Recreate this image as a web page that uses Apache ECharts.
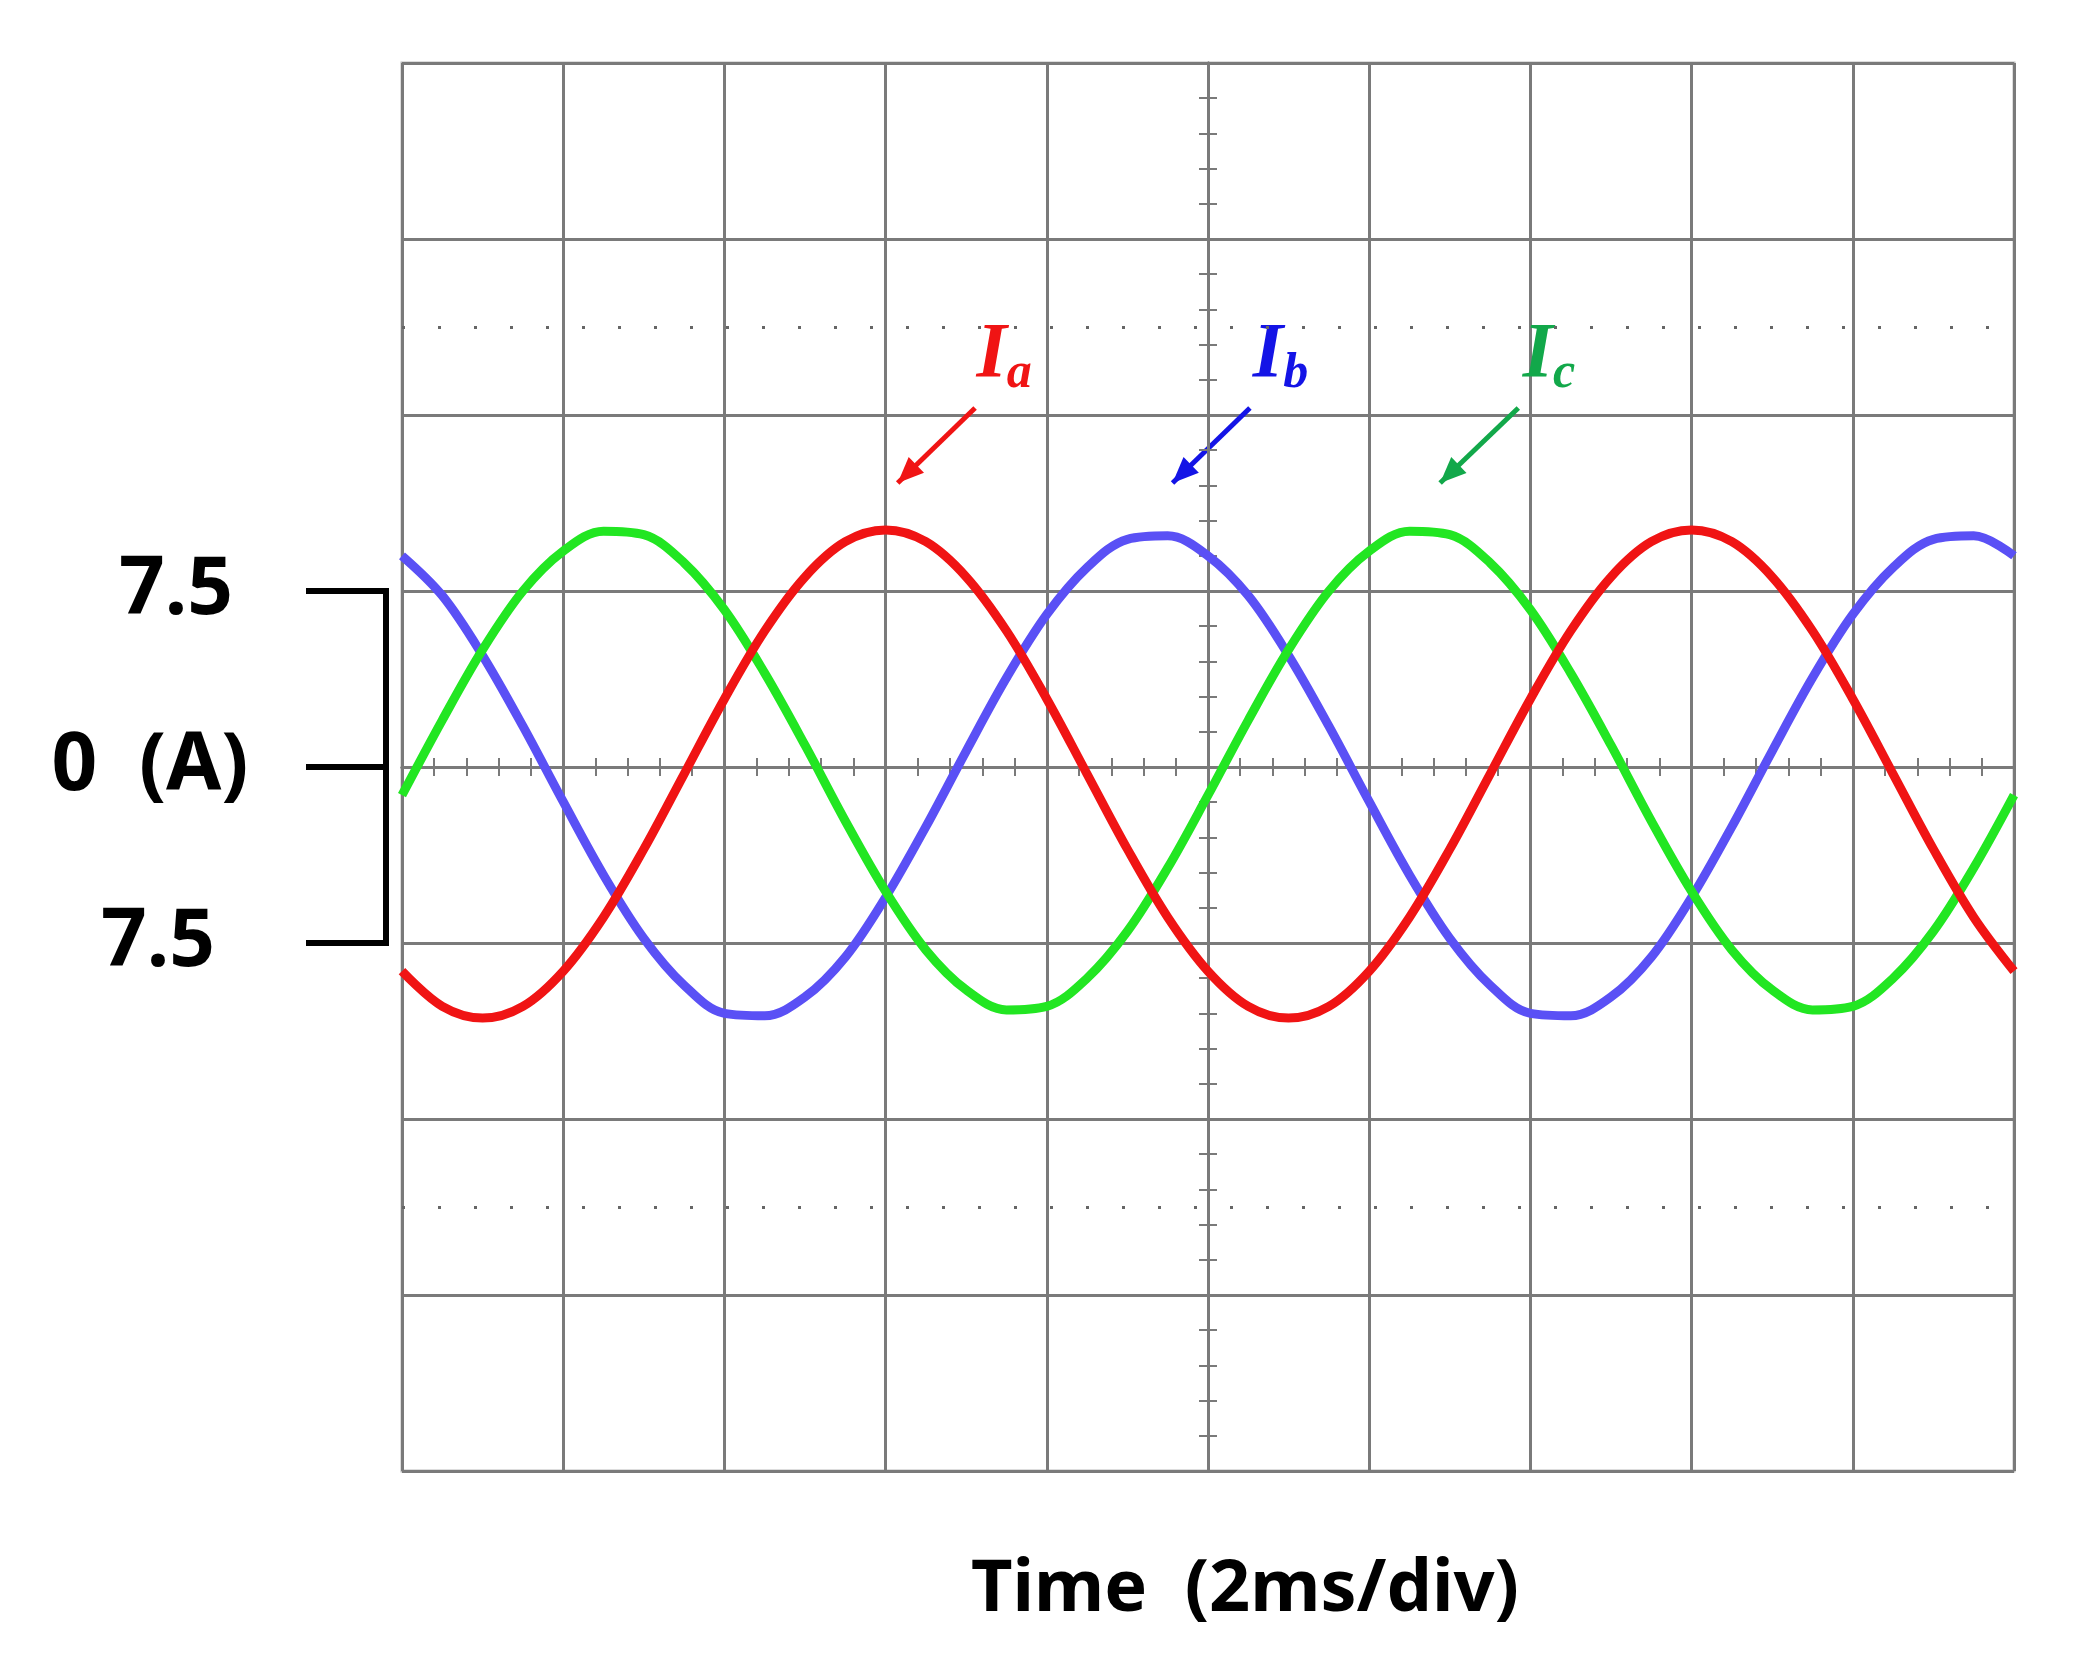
<!DOCTYPE html>
<html><head><meta charset="utf-8">
<script src="https://cdn.jsdelivr.net/npm/echarts@6/dist/echarts.min.js"></script>
<style>html,body{margin:0;padding:0;background:#fff}#c{width:2084px;height:1656px}</style>
</head><body><div id="c"></div>
<script>
const times=[-10,-9.5,-9,-8.5,-8,-7.5,-7,-6.5,-6,-5.5,-5,-4.5,-4,-3.5,-3,-2.5,-2,-1.5,-1,-0.5,0,0.5,1,1.5,2,2.5,3,3.5,4,4.5,5,5.5,6,6.5,7,7.5,8,8.5,9,9.5,10];
const ia=[-8.7,-10.2,-10.7,-10.2,-8.7,-6.4,-3.5,-0.3,2.9,5.8,8.1,9.6,10.1,9.6,8.1,5.8,2.9,-0.3,-3.5,-6.4,-8.7,-10.2,-10.7,-10.2,-8.7,-6.4,-3.5,-0.3,2.9,5.8,8.1,9.6,10.1,9.6,8.1,5.8,2.9,-0.3,-3.5,-6.4,-8.7];
const ibv=[9.0,7.3,4.75,1.74,-1.48,-4.6,-7.3,-9.3,-10.5,-10.6,-9.8,-8.1,-5.55,-2.54,0.68,3.8,6.5,8.5,9.7,9.85,9.0,7.3,4.75,1.74,-1.48,-4.6,-7.3,-9.3,-10.5,-10.6,-9.8,-8.1,-5.55,-2.54,0.68,3.8,6.5,8.5,9.7,9.85,9.0];
const icv=[-1.2,2.0,5.0,7.5,9.2,10.05,9.9,8.7,6.7,4.0,0.93,-2.3,-5.3,-7.8,-9.5,-10.35,-10.2,-9.0,-7.0,-4.3,-1.2,2.0,5.0,7.5,9.2,10.05,9.9,8.7,6.7,4.0,0.93,-2.3,-5.3,-7.8,-9.5,-10.35,-10.2,-9.0,-7.0,-4.3,-1.2];
const yTickLabels=[{v:7.5,t:'7.5'},{v:0,t:'0  (A)'},{v:-7.5,t:'7.5'}];
const dottedLevels=[18.75,-18.75];
const pair=a=>times.map((t,i)=>[t,a[i]]);
const grid='#7a7a7a';
const ch=echarts.init(document.getElementById('c'));
const axX=(extra)=>Object.assign({type:'value',min:-10,max:10,interval:2,axisLabel:{show:false},
  splitLine:{show:true,lineStyle:{color:grid,width:3}},axisLine:{show:true,onZero:true,lineStyle:{color:grid,width:3}},
  axisTick:{show:false},minorTick:{show:true,splitNumber:5,length:9,lineStyle:{color:grid,width:2}}},extra);
const axY=(extra)=>Object.assign({type:'value',min:-30,max:30,interval:7.5,axisLabel:{show:false},
  splitLine:{show:true,lineStyle:{color:grid,width:3}},axisLine:{show:true,onZero:true,lineStyle:{color:grid,width:3}},
  axisTick:{show:false},minorTick:{show:true,splitNumber:5,length:9,lineStyle:{color:grid,width:2}}},extra);
const ser=(name,d,c)=>({name,type:'line',data:pair(d),smooth:0.35,showSymbol:false,lineStyle:{color:c,width:9},z:3});
ch.setOption({animation:false,
  grid:{left:402,right:70,top:63,bottom:185,show:true,borderColor:'#bbb',borderWidth:3},
  xAxis:[axX({}),axX({position:'top'})],
  yAxis:[axY({}),axY({position:'right'})],
  series:[
    ser('Ib',ibv,'#5a50f5'),ser('Ic',icv,'#22e622'),ser('Ia',ia,'#f01414'),
    {type:'line',data:[],markLine:{silent:true,symbol:'none',label:{show:false},
      lineStyle:{color:'#666',type:[3,33],width:3},data:dottedLevels.map(v=>({yAxis:v}))}}
  ]});
function px(x,y){return ch.convertToPixel({xAxisIndex:0,yAxisIndex:0},[x,y]);}
const g=[];
const bx=386, bl=306;
const p75=px(0,7.5)[1], p0=px(0,0)[1], pm=px(0,-7.5)[1];
g.push({type:'line',shape:{x1:bx,y1:p75,x2:bx,y2:pm},style:{stroke:'#000',lineWidth:6}});
[p75,p0,pm].forEach(y=>g.push({type:'line',shape:{x1:bl,y1:y,x2:bx+3,y2:y},style:{stroke:'#000',lineWidth:6}}));
const lx=[176,150,158];
yTickLabels.forEach((o,i)=>g.push({type:'text',style:{text:o.t,x:lx[i],y:px(0,o.v)[1],align:'center',verticalAlign:'middle',font:'bold 80px "Noto Sans"',fill:'#000'}}));
g.push({type:'text',style:{text:'Time  (2ms/div)',x:1245,y:1590,align:'center',verticalAlign:'middle',font:'bold 72px "Noto Sans"',fill:'#000'}});
const ann=[{s:'a',c:'#f01414',ax:-2.89,ex:-3.85,lx:-2.53},{s:'b',c:'#1414e6',ax:0.52,ex:-0.44,lx:0.9},{s:'c',c:'#12a84a',ax:3.85,ex:2.88,lx:4.23}];
ann.forEach(a=>{
  const s=px(a.ax,15.3), e=px(a.ex,12.1), l=px(a.lx,17.5);
  g.push({type:'line',shape:{x1:s[0],y1:s[1],x2:e[0],y2:e[1]},style:{stroke:a.c,lineWidth:5}});
  const ang=Math.atan2(e[1]-s[1],e[0]-s[0]);const L=26,W=11;
  const b=[e[0]-L*Math.cos(ang),e[1]-L*Math.sin(ang)];
  g.push({type:'polygon',shape:{points:[e,[b[0]+W*Math.sin(ang),b[1]-W*Math.cos(ang)],[b[0]-W*Math.sin(ang),b[1]+W*Math.cos(ang)]]},style:{fill:a.c}});
  g.push({type:'text',x:l[0],y:l[1],style:{text:'{m|I}{s|'+a.s+'}',align:'center',verticalAlign:'middle',
    rich:{m:{font:'italic bold 78px "Liberation Serif"',fill:a.c},s:{font:'italic bold 50px "Liberation Serif"',fill:a.c,padding:[36,0,0,0]}}}});
});
ch.setOption({graphic:g});
</script></body></html>
